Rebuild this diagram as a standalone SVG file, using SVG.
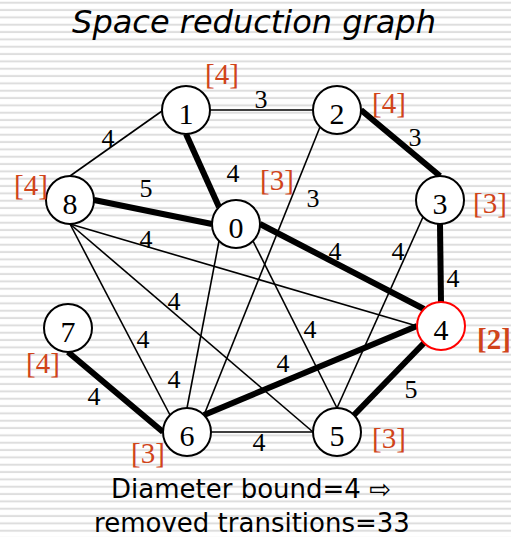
<svg xmlns="http://www.w3.org/2000/svg" width="511" height="537" viewBox="0 0 511 537">
<defs>
<pattern id="stripes" patternUnits="userSpaceOnUse" width="20" height="7.3333">
<rect x="0" y="0" width="20" height="7.3333" fill="#ffffff"/>
<rect x="0" y="1.7" width="20" height="2" fill="#dedede"/>
</pattern>
</defs>
<style>
.node circle { fill: #ffffff; stroke: #000000; stroke-width: 2; }
.node text { font-family: "Liberation Serif", "Times New Roman", serif; font-size: 30px; text-anchor: middle; fill: #000000; }
.thin { stroke: #000000; stroke-width: 1.6; fill: none; }
.thick { stroke: #000000; stroke-width: 6; fill: none; }
.elabel { font-family: "Liberation Serif", "Times New Roman", serif; font-size: 26px; text-anchor: middle; fill: #000000; }
.blabel { font-family: "Liberation Serif", "Times New Roman", serif; font-size: 29px; text-anchor: middle; fill: #d0441a; }
.title { font-family: "DejaVu Sans", Verdana, sans-serif; font-style: italic; font-size: 32px; text-anchor: middle; fill: #000000; }
.caption { font-family: "DejaVu Sans", Verdana, sans-serif; font-size: 26px; text-anchor: middle; fill: #000000; }
</style>
<rect x="0" y="0" width="511" height="537" fill="url(#stripes)"/>
<text class="title" x="254" y="33">Space reduction graph</text>
<g id="connectors">
<line class="thin" x1="210" y1="110" x2="313" y2="110"/>
<line class="thin" x1="162" y1="111" x2="70" y2="176"/>
<line class="thick" x1="186" y1="134" x2="219" y2="207"/>
<line class="thick" x1="361" y1="110" x2="440" y2="176"/>
<line class="thin" x1="320" y1="127" x2="204" y2="415"/>
<line class="thick" x1="94" y1="200" x2="212" y2="224"/>
<line class="thin" x1="70" y1="224" x2="417" y2="326"/>
<line class="thin" x1="70" y1="224" x2="170" y2="415"/>
<line class="thin" x1="70" y1="224" x2="313" y2="432"/>
<line class="thick" x1="260" y1="224" x2="424" y2="309"/>
<line class="thin" x1="219" y1="241" x2="187" y2="408"/>
<line class="thin" x1="253" y1="241" x2="337" y2="408"/>
<line class="thick" x1="440" y1="224" x2="441" y2="302"/>
<line class="thin" x1="423" y1="217" x2="337" y2="408"/>
<line class="thick" x1="417" y1="326" x2="204" y2="415"/>
<line class="thick" x1="424" y1="343" x2="354" y2="415"/>
<line class="thick" x1="68" y1="352" x2="163" y2="432"/>
<line class="thin" x1="211" y1="432" x2="313" y2="432"/>
<text class="elabel" x="261" y="108">3</text>
<text class="elabel" x="108" y="147">4</text>
<text class="elabel" x="233" y="182">4</text>
<text class="elabel" x="146" y="197">5</text>
<text class="elabel" x="146" y="248">4</text>
<text class="elabel" x="415" y="146">3</text>
<text class="elabel" x="313" y="207">3</text>
<text class="elabel" x="335" y="260">4</text>
<text class="elabel" x="398" y="260">4</text>
<text class="elabel" x="453" y="287">4</text>
<text class="elabel" x="310" y="338">4</text>
<text class="elabel" x="283" y="372">4</text>
<text class="elabel" x="411" y="398">5</text>
<text class="elabel" x="174" y="310">4</text>
<text class="elabel" x="143" y="348">4</text>
<text class="elabel" x="174" y="388">4</text>
<text class="elabel" x="94" y="405">4</text>
<text class="elabel" x="259" y="451">4</text>
</g>
<g id="node-1" class="node"><circle cx="186" cy="110" r="24"/><text x="186" y="124">1</text></g>
<g id="node-2" class="node"><circle cx="337" cy="110" r="24"/><text x="337" y="124">2</text></g>
<g id="node-8" class="node"><circle cx="70" cy="200" r="24"/><text x="70" y="214">8</text></g>
<g id="node-0" class="node"><circle cx="236" cy="224" r="24"/><text x="236" y="238">0</text></g>
<g id="node-3" class="node"><circle cx="440" cy="200" r="24"/><text x="440" y="214">3</text></g>
<g id="node-7" class="node"><circle cx="68" cy="328" r="24"/><text x="68" y="342">7</text></g>
<g id="node-4" class="node"><circle cx="441" cy="326" r="24" style="stroke:#ff0000"/><text x="441" y="340">4</text></g>
<g id="node-6" class="node"><circle cx="187" cy="432" r="24"/><text x="187" y="446">6</text></g>
<g id="node-5" class="node"><circle cx="337" cy="432" r="24"/><text x="337" y="446">5</text></g>
<g id="bounds">
<text class="blabel" x="222" y="84">[4]</text>
<text class="blabel" x="389" y="113">[4]</text>
<text class="blabel" x="31" y="195">[4]</text>
<text class="blabel" x="277" y="190">[3]</text>
<text class="blabel" x="490" y="213">[3]</text>
<text class="blabel" x="494" y="349" style="font-weight:bold">[2]</text>
<text class="blabel" x="43" y="373">[4]</text>
<text class="blabel" x="148" y="463">[3]</text>
<text class="blabel" x="389" y="448">[3]</text>
</g>
<text class="caption" x="251" y="498">Diameter bound=4 ⇨</text>
<text class="caption" x="252" y="532">removed transitions=33</text>
</svg>
